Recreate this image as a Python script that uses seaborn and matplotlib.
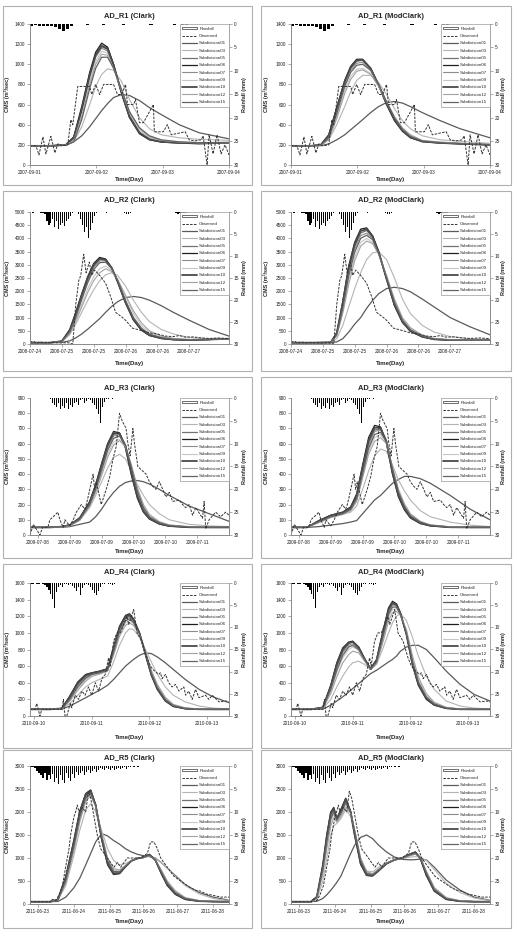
import numpy as np
import matplotlib
matplotlib.use("Agg")
import matplotlib.pyplot as plt
from matplotlib.lines import Line2D
from matplotlib.patches import Patch, Rectangle
import seaborn as sns

# x positions are given in % of each time axis, flows in CMS, rainfall in mm

sub_names = ["Subdivision01", "Subdivision03", "Subdivision05", "Subdivision06", "Subdivision07",
             "Subdivision09", "Subdivision10", "Subdivision12", "Subdivision15"]

# ---------------- AD_R1 ----------------
r1_ticks = [0, 33.3, 66.7, 100]
r1_labels = ["2007-09-01", "2007-09-02", "2007-09-03", "2007-09-04"]
r1_obs_x = [0, 3, 4.5, 6.5, 8, 10.5, 12.5, 14, 16, 19, 20.5, 21.5, 24, 30, 31, 33, 35, 37, 42, 44,
            46, 48, 49, 52, 53, 55, 57, 62, 62.5, 67, 69, 71, 78, 80, 83, 86, 87, 89, 90, 92, 94, 96, 98, 100]
r1_obs_y = [190, 190, 100, 280, 110, 285, 120, 210, 190, 200, 450, 400, 780, 780, 700, 800, 700, 800, 800, 700,
            700, 800, 600, 600, 650, 420, 420, 600, 330, 330, 400, 300, 330, 250, 240, 250, 290, 0, 300, 110,
            300, 110, 200, 100]
r1_rain = [0.4, 0.3, 0.5, 0.4, 0.5, 0.4, 0.7, 1.1, 1.4, 1.0, 0.5, 0.1, 0.1, 0.1, 0.2, 0, 0.1, 0.1, 0.2, 0.1,
           0.1, 0, 0.1, 0.2, 0.1, 0, 0.1, 0.1, 0, 0.1, 0.2, 0.1, 0, 0, 0.1, 0.1, 0.2, 0.1, 0.3, 0.2,
           0.1, 0, 0.1, 0, 0, 0.1, 0, 0, 0.1, 0]
r1_rain_start, r1_rain_step = 0, 2

r1c_t = [0, 10, 18, 22, 26, 30, 33, 36, 39, 42, 46, 50, 55, 60, 66, 75, 85, 100]
r1c_sim = [
    [190, 190, 200, 230, 290, 380, 460, 540, 610, 670, 700, 690, 640, 570, 500, 400, 320, 260],
    [190, 190, 195, 230, 380, 600, 780, 900, 955, 940, 830, 650, 470, 360, 300, 270, 255, 245],
    [190, 190, 200, 270, 560, 900, 1100, 1190, 1160, 1000, 720, 480, 320, 255, 230, 220, 215, 220],
    [190, 190, 200, 280, 580, 920, 1120, 1210, 1170, 1000, 710, 470, 310, 250, 228, 218, 212, 220],
    [190, 190, 200, 260, 530, 870, 1070, 1160, 1130, 980, 720, 490, 330, 260, 232, 222, 215, 220],
    [190, 190, 198, 250, 500, 830, 1030, 1130, 1110, 970, 730, 500, 340, 270, 240, 225, 218, 220],
    [190, 190, 200, 270, 550, 890, 1090, 1180, 1150, 990, 720, 480, 320, 255, 230, 220, 214, 220],
    [190, 190, 198, 240, 480, 800, 1000, 1100, 1090, 960, 740, 520, 360, 280, 245, 228, 220, 222],
    [190, 190, 196, 230, 450, 760, 960, 1070, 1070, 960, 750, 530, 370, 290, 250, 230, 222, 225],
]
r1m_t = [0, 10, 15, 19, 23, 27, 30, 33, 36, 40, 44, 48, 52, 56, 60, 66, 75, 85, 100]
r1m_sim = [
    [190, 190, 192, 210, 250, 300, 350, 400, 450, 520, 580, 620, 630, 615, 580, 520, 440, 360, 270],
    [190, 190, 195, 250, 400, 580, 730, 840, 890, 890, 820, 700, 560, 440, 360, 290, 250, 235, 215],
    [190, 190, 200, 290, 550, 820, 960, 1030, 1040, 960, 800, 620, 460, 350, 280, 235, 220, 212, 200],
    [190, 190, 200, 300, 570, 840, 980, 1050, 1050, 960, 790, 600, 440, 335, 270, 232, 218, 210, 200],
    [190, 190, 198, 280, 530, 800, 940, 1010, 1020, 950, 800, 620, 460, 350, 280, 236, 222, 212, 202],
    [190, 190, 196, 260, 480, 740, 880, 950, 960, 910, 780, 620, 470, 360, 290, 240, 225, 215, 205],
    [190, 190, 200, 295, 560, 830, 970, 1040, 1045, 960, 795, 610, 450, 340, 275, 233, 219, 211, 200],
    [190, 190, 196, 255, 460, 710, 850, 930, 945, 900, 780, 630, 480, 370, 300, 245, 228, 216, 205],
    [190, 190, 198, 270, 510, 780, 920, 990, 1000, 940, 800, 630, 470, 355, 285, 238, 222, 213, 202],
]

# ---------------- AD_R2 ----------------
r2_ticks = [0, 16, 32, 48, 64, 80]
r2_labels = ["2008-07-24", "2008-07-25", "2008-07-25", "2008-07-26", "2008-07-26", "2008-07-27"]
r2_obs_x = [0, 2, 3, 5, 7, 10, 15, 19, 21.5, 23, 24.5, 25.5, 27, 28.2, 29.8, 31, 32.5, 35, 38, 40.5,
            43, 46.5, 48, 51.5, 56.5, 60, 64, 68, 72, 75, 78, 82, 86, 90, 95, 100]
r2_obs_y = [80, 100, 40, 80, 50, 60, 40, 50, 0, 1500, 2400, 2600, 3400, 2700, 3100, 2600, 2800, 2600, 2300, 1800,
            1200, 1000, 900, 600, 500, 420, 380, 300, 280, 320, 260, 270, 230, 210, 230, 200]
r2_rain = [0.1, 0.2, 0, 0.1, 0, 0.2, 0.2, 0.5, 2.0, 3.0, 2.5, 1.5, 3.5, 2.0, 3.8, 3.0, 2.5, 3.2, 2.0, 1.5,
           1.0, 0.3, 0.1, 0, 0.5, 1.5, 3.0, 4.5, 3.5, 5.9, 4.0, 2.5, 0.8, 0.2, 0.1, 0, 0.1, 0, 0.2, 0.1,
           0, 0, 0.1, 0, 0.1, 0, 0, 0.3, 0.5, 0.4, 0.2, 0, 0, 0.1, 0, 0, 0, 0.1, 0, 0,
           0, 0.1, 0, 0, 0, 0, 0.1, 0, 0, 0, 0, 0, 0.1, 0.2, 0.4, 0.3, 0.2, 0.3, 0.2, 0,
           0, 0.1, 0, 0, 0, 0.1, 0, 0, 0, 0, 0, 0, 0.1, 0, 0, 0, 0, 0, 0.1, 0]
r2_rain_start, r2_rain_step = 0, 1

r2c_t = [0, 10, 16, 20, 23, 26, 29, 32, 35, 38, 41, 44, 48, 52, 56, 60, 66, 72, 80, 90, 100]
r2c_sim = [
    [50, 50, 60, 120, 230, 380, 560, 760, 960, 1200, 1420, 1600, 1760, 1800, 1760, 1660, 1450, 1200, 900, 550, 300],
    [50, 50, 80, 350, 750, 1200, 1650, 2050, 2400, 2620, 2700, 2600, 2200, 1650, 1200, 850, 550, 380, 250, 200, 180],
    [50, 50, 100, 500, 1100, 1800, 2450, 2950, 3200, 3200, 2900, 2400, 1600, 950, 560, 350, 220, 170, 150, 170, 200],
    [50, 50, 110, 550, 1200, 1900, 2550, 3050, 3280, 3220, 2880, 2350, 1550, 900, 520, 320, 210, 165, 150, 170, 200],
    [50, 50, 100, 480, 1050, 1750, 2400, 2900, 3150, 3150, 2880, 2400, 1620, 970, 570, 360, 230, 175, 155, 170, 200],
    [50, 50, 90, 420, 900, 1500, 2100, 2550, 2850, 2950, 2800, 2450, 1800, 1150, 700, 450, 280, 200, 170, 180, 200],
    [50, 50, 105, 520, 1150, 1850, 2500, 3000, 3230, 3190, 2890, 2380, 1580, 930, 540, 335, 215, 168, 152, 170, 200],
    [50, 50, 85, 400, 850, 1400, 1950, 2400, 2700, 2850, 2750, 2450, 1850, 1250, 800, 500, 300, 210, 175, 180, 200],
    [50, 50, 95, 460, 1000, 1680, 2320, 2820, 3080, 3100, 2860, 2420, 1650, 1000, 600, 380, 240, 180, 158, 172, 200],
]
r2m_t = [0, 10, 20, 23, 26, 29, 32, 35, 38, 41, 44, 48, 52, 56, 60, 66, 72, 80, 90, 100]
r2m_sim = [
    [50, 50, 50, 80, 200, 450, 750, 1000, 1350, 1650, 1900, 2100, 2150, 2100, 1980, 1700, 1400, 1000, 650, 350],
    [50, 50, 55, 200, 700, 1400, 2100, 2700, 3200, 3450, 3500, 3200, 2500, 1700, 1150, 700, 450, 280, 200, 170],
    [50, 50, 60, 400, 1500, 2800, 3700, 4200, 4300, 4050, 3500, 2500, 1500, 850, 500, 280, 180, 150, 150, 150],
    [50, 50, 60, 420, 1600, 2950, 3850, 4350, 4400, 4100, 3500, 2450, 1450, 820, 480, 270, 175, 150, 150, 150],
    [50, 50, 58, 380, 1450, 2700, 3600, 4100, 4200, 4000, 3480, 2520, 1550, 880, 520, 290, 185, 150, 150, 150],
    [50, 50, 56, 330, 1250, 2400, 3300, 3850, 4000, 3850, 3400, 2550, 1650, 950, 580, 320, 200, 160, 150, 150],
    [50, 50, 60, 410, 1550, 2880, 3780, 4280, 4350, 4080, 3500, 2480, 1480, 840, 490, 275, 178, 150, 150, 150],
    [50, 50, 55, 300, 1150, 2250, 3150, 3700, 3900, 3800, 3400, 2600, 1700, 1000, 620, 340, 210, 165, 152, 150],
    [50, 50, 57, 360, 1350, 2580, 3480, 4000, 4120, 3950, 3450, 2530, 1580, 900, 540, 300, 190, 155, 150, 150],
]

# ---------------- AD_R3 ----------------
r3_ticks = [4, 20, 36, 52, 68, 84]
r3_labels = ["2009-07-08", "2009-07-09", "2009-07-09", "2009-07-10", "2009-07-10", "2009-07-11"]
r3_obs_x = [0, 1.7, 5, 6.3, 9, 10, 12.5, 14, 15, 16.7, 17.5, 20, 21.7, 23.3, 25.8, 27.5, 28.3, 29.2, 31.7, 32.5,
            33.3, 35.8, 38.3, 40, 41.7, 43.3, 45, 46.3, 48.3, 49.2, 50.3, 51.7, 52.5, 54.2, 55.8, 58.3, 60, 61.7,
            63.3, 65, 66.7, 68.3, 70, 71.7, 75, 76.7, 78.3, 80, 81.7, 83.3, 86.7, 87.5, 88.3, 90, 93.3, 95.8,
            98.3, 100]
r3_obs_y = [0, 70, 0, 50, 50, 100, 130, 150, 100, 50, 100, 60, 100, 150, 200, 170, 200, 250, 400, 300,
            350, 200, 300, 380, 500, 580, 800, 750, 700, 600, 520, 700, 600, 450, 430, 400, 350, 320,
            300, 350, 300, 250, 280, 220, 230, 200, 180, 200, 130, 180, 110, 220, 40, 100, 150, 120,
            150, 130]
r3_rain = [0.3, 1.0, 1.5, 2.0, 1.2, 2.5, 1.8, 2.2, 1.0, 2.5, 1.5, 2.0, 1.0, 0.8, 1.5, 0.5, 0.3, 1.2, 0.6, 0.2,
           0.5, 1.0, 1.5, 2.5, 3.5, 5.5, 2.0, 0.8, 0.3, 0.2, 0.1, 0.2, 0.1, 0.1, 0, 0.1]
r3_rain_start, r3_rain_step = 10, 1

r3c_t = [0, 10, 16, 20, 25, 30, 33, 36, 39, 42, 45, 48, 51, 54, 57, 60, 65, 70, 80, 90, 100]
r3c_sim = [
    [50, 50, 50, 55, 70, 85, 120, 170, 230, 280, 320, 345, 355, 358, 350, 335, 300, 260, 190, 140, 90],
    [50, 50, 52, 60, 95, 180, 260, 350, 440, 510, 530, 500, 420, 330, 260, 200, 140, 100, 70, 60, 55],
    [50, 50, 55, 65, 110, 210, 320, 450, 580, 660, 670, 590, 420, 260, 160, 110, 75, 60, 52, 50, 50],
    [50, 50, 55, 65, 110, 220, 330, 470, 600, 680, 670, 570, 390, 240, 150, 105, 72, 58, 51, 50, 50],
    [50, 50, 54, 64, 105, 205, 310, 440, 570, 650, 660, 590, 430, 270, 170, 115, 78, 61, 52, 50, 50],
    [50, 50, 53, 62, 100, 195, 290, 410, 530, 610, 630, 580, 450, 300, 190, 130, 85, 65, 54, 51, 50],
    [50, 50, 55, 66, 112, 215, 325, 460, 590, 670, 665, 580, 405, 250, 155, 108, 74, 59, 51, 50, 50],
    [50, 50, 53, 61, 98, 190, 280, 390, 510, 590, 620, 580, 460, 310, 200, 135, 88, 66, 55, 51, 50],
    [50, 50, 54, 63, 103, 200, 300, 425, 555, 635, 650, 590, 440, 285, 180, 120, 80, 62, 53, 50, 50],
]
r3m_t = [0, 8, 14, 20, 26, 30, 33, 36, 39, 42, 45, 48, 51, 54, 57, 60, 65, 70, 80, 90, 100]
r3m_sim = [
    [50, 50, 55, 65, 75, 85, 95, 140, 185, 230, 260, 300, 340, 365, 385, 385, 370, 340, 260, 170, 100],
    [50, 50, 80, 115, 135, 150, 190, 300, 420, 520, 565, 550, 460, 360, 290, 230, 160, 120, 85, 65, 55],
    [50, 50, 90, 125, 145, 175, 250, 430, 600, 690, 700, 620, 420, 270, 180, 120, 80, 62, 52, 50, 50],
    [50, 50, 95, 130, 150, 185, 270, 460, 640, 720, 710, 600, 400, 250, 165, 112, 75, 60, 51, 50, 50],
    [50, 50, 88, 122, 142, 172, 245, 420, 590, 680, 690, 615, 425, 275, 185, 125, 82, 63, 52, 50, 50],
    [50, 50, 85, 118, 138, 165, 230, 390, 550, 640, 660, 610, 440, 290, 195, 132, 86, 65, 53, 50, 50],
    [50, 50, 92, 128, 148, 180, 260, 445, 620, 705, 705, 610, 410, 260, 172, 116, 78, 61, 51, 50, 50],
    [50, 50, 84, 116, 136, 160, 220, 375, 530, 615, 640, 600, 450, 300, 205, 140, 90, 67, 54, 50, 50],
    [50, 50, 87, 120, 140, 168, 238, 405, 570, 660, 675, 612, 432, 282, 188, 128, 84, 64, 52, 50, 50],
]

# ---------------- AD_R4 ----------------
r4_ticks = [2, 31, 60, 89]
r4_labels = ["2010-09-10", "2010-09-11", "2010-09-12", "2010-09-13"]
r4_obs_x = [0, 2.5, 3.4, 5, 5.9, 16, 16.8, 17.6, 18.5, 20.2, 21, 22.7, 24.4, 26, 27.7, 29.4, 31, 32.8, 34.5, 36.1,
            37.8, 39.5, 40.3, 42, 43.7, 45.4, 47.1, 48.7, 49.6, 52.1, 53.8, 56.3, 58.8, 60.5, 62.2, 64.7, 65.5,
            66.4, 68.1, 69.7, 71.4, 73.1, 74.8, 77.3, 78.2, 79.8, 81.5, 83.2, 84.9, 88.2, 89.9, 91.6, 95, 98.3, 100]
r4_obs_y = [80, 80, 150, 0, 80, 80, 200, 0, 0, 150, 100, 250, 200, 300, 250, 350, 250, 400, 300, 450,
            500, 700, 600, 900, 1000, 1000, 1100, 1200, 1100, 1280, 1000, 900, 700, 600, 550, 500, 520,
            450, 500, 400, 350, 380, 300, 350, 250, 300, 200, 320, 220, 250, 200, 250, 170, 180, 170]
r4_rain = [0.3, 0.2, 0.1, 0.3, 0.2, 0.1, 0.2, 0.4, 0.8, 1.5, 2.5, 3.5, 5.6, 2.0, 1.0, 0.5, 0.8, 0.3, 0.2, 0.4,
           0.3, 0.6, 1.2, 1.8, 1.0, 2.8, 1.2, 0.4, 0.2, 0.5, 1.0, 1.6, 2.2, 2.6, 1.8, 0.8, 0.3, 0.2, 0.1, 0.2,
           0.3, 0.5, 0.2, 0.1, 0, 0.1, 0, 0.1, 0, 0.1]
r4_rain_start, r4_rain_step = 0, 1

r4c_t = [0, 10, 16, 20, 24, 28, 31, 35, 39, 42, 45, 48, 50, 52, 55, 58, 61, 64, 68, 72, 78, 85, 92, 100]
r4c_sim = [
    [80, 80, 82, 120, 170, 220, 260, 310, 370, 440, 520, 600, 640, 680, 730, 760, 750, 710, 640, 560, 440, 320, 230, 160],
    [80, 80, 85, 150, 250, 350, 400, 440, 480, 650, 850, 1000, 1050, 1040, 950, 800, 650, 500, 350, 250, 170, 120, 95, 85],
    [80, 80, 90, 220, 380, 480, 510, 530, 560, 800, 1050, 1180, 1200, 1150, 1000, 750, 500, 330, 190, 120, 90, 82, 80, 80],
    [80, 80, 92, 240, 410, 500, 520, 540, 570, 830, 1080, 1210, 1230, 1170, 1000, 740, 490, 320, 180, 115, 88, 81, 80, 80],
    [80, 80, 90, 210, 370, 470, 505, 525, 555, 790, 1040, 1170, 1190, 1140, 995, 755, 505, 335, 195, 122, 91, 82, 80, 80],
    [80, 80, 88, 190, 330, 440, 490, 515, 545, 750, 990, 1120, 1150, 1110, 980, 770, 530, 360, 210, 130, 95, 83, 80, 80],
    [80, 80, 91, 230, 395, 490, 515, 535, 565, 815, 1065, 1195, 1215, 1160, 998, 745, 495, 325, 185, 118, 89, 81, 80, 80],
    [80, 80, 87, 180, 310, 420, 475, 505, 540, 730, 960, 1090, 1120, 1090, 975, 780, 550, 380, 225, 140, 98, 84, 81, 80],
    [80, 80, 89, 200, 350, 455, 500, 520, 550, 770, 1015, 1145, 1170, 1125, 990, 760, 515, 345, 200, 125, 92, 82, 80, 80],
]
r4m_t = [0, 10, 16, 20, 23, 26, 29, 31, 34, 37, 40, 43, 46, 49, 51, 53, 55, 58, 61, 64, 68, 72, 78, 85, 92, 100]
r4m_sim = [
    [80, 80, 82, 130, 180, 230, 290, 330, 390, 450, 510, 550, 600, 650, 680, 720, 780, 830, 850, 850, 800, 700, 540, 380, 260, 180],
    [80, 80, 90, 200, 350, 480, 590, 640, 660, 620, 560, 620, 800, 1000, 1120, 1200, 1230, 1150, 950, 720, 480, 320, 180, 120, 95, 85],
    [80, 80, 100, 350, 600, 780, 870, 890, 820, 680, 560, 650, 950, 1250, 1340, 1330, 1230, 1000, 650, 400, 220, 140, 95, 82, 80, 80],
    [80, 80, 105, 370, 640, 820, 890, 900, 830, 690, 570, 680, 1000, 1300, 1380, 1350, 1240, 980, 620, 370, 200, 130, 92, 81, 80, 80],
    [80, 80, 98, 340, 580, 760, 850, 870, 810, 680, 560, 660, 960, 1260, 1340, 1320, 1220, 990, 640, 390, 215, 138, 94, 82, 80, 80],
    [80, 80, 95, 300, 520, 700, 800, 830, 790, 670, 560, 640, 900, 1180, 1280, 1290, 1220, 1020, 700, 440, 250, 155, 100, 84, 80, 80],
    [80, 80, 102, 360, 620, 800, 880, 895, 825, 685, 565, 670, 980, 1280, 1360, 1340, 1235, 985, 630, 380, 210, 135, 93, 81, 80, 80],
    [80, 80, 92, 270, 470, 640, 740, 780, 760, 660, 560, 630, 870, 1140, 1240, 1260, 1210, 1040, 730, 470, 270, 165, 105, 85, 81, 80],
    [80, 80, 97, 320, 550, 730, 830, 850, 800, 675, 560, 650, 930, 1220, 1310, 1310, 1225, 1000, 660, 410, 230, 145, 96, 83, 80, 80],
]

# ---------------- AD_R5 ----------------
r5_ticks = [4, 22, 40, 57, 74, 92]
r5_labels = ["2011-06-23", "2011-06-24", "2011-06-25", "2011-06-26", "2011-06-27", "2011-06-28"]
r5_obs_x = [0, 10.4, 11.2, 12.9, 14.6, 16.3, 17.9, 19.6, 20.4, 22.1, 22.9, 23.8, 24.6, 26.3, 28, 29.3, 30.5, 33.8,
            35.5, 37.2, 38.9, 40.5, 42.2, 43.9, 45.6, 47.2, 48.9, 52.3, 55.6, 57.3, 59, 60.6, 62.3, 64, 65.7,
            67.3, 69, 70.7, 72.4, 75.7, 77.4, 80.7, 83.2, 85.8, 88.3, 90.8, 95.8, 100]
r5_obs_y = [50, 50, 100, 70, 200, 400, 800, 1200, 1500, 1900, 2000, 2150, 2000, 2100, 2000, 2450, 2300, 1500,
            1200, 1100, 1000, 900, 800, 900, 800, 900, 1000, 1000, 1000, 1050, 1100, 1350, 1350, 1200, 1000,
            900, 800, 700, 600, 500, 450, 350, 300, 280, 220, 200, 150, 150]
r5_rain = [0.2, 0.3, 0.5, 1.0, 1.5, 2.0, 2.5, 1.5, 3.0, 2.0, 2.8, 1.8, 3.5, 2.5, 3.9, 2.0, 3.0, 3.8, 1.5, 2.5,
           3.2, 1.8, 2.5, 1.2, 2.0, 1.5, 1.0, 2.0, 1.2, 0.8, 1.5, 1.0, 0.6, 1.2, 0.8, 0.5, 0.6, 0.9, 0.4, 0.6,
           0.8, 0.5, 0.9, 0.6, 0.4, 0.7, 0.5, 0.3, 0.6, 0.2, 0.3, 0.1, 0.2, 0.1, 0.3, 0.1, 0, 0.1, 0, 0.1]
r5_rain_start, r5_rain_step = 0, 1

r5c_t = [0, 10, 14, 18, 22, 25, 28, 30.5, 33, 36, 39, 42, 45, 48, 51, 54, 57, 60, 63, 66, 69, 73, 78, 85, 92, 100]
r5c_sim = [
    [50, 50, 55, 150, 350, 560, 850, 1100, 1350, 1530, 1480, 1380, 1300, 1200, 1130, 1080, 1050, 1030, 1000, 900, 780, 620, 420, 250, 150, 80],
    [50, 50, 80, 400, 1050, 1600, 2050, 2180, 2000, 1600, 1200, 950, 850, 880, 950, 1000, 1020, 1040, 1000, 900, 780, 600, 400, 220, 120, 70],
    [50, 50, 90, 550, 1300, 1950, 2350, 2440, 2150, 1450, 900, 680, 680, 820, 940, 990, 1010, 1060, 950, 680, 430, 230, 110, 65, 55, 50],
    [50, 50, 95, 600, 1380, 2020, 2400, 2480, 2150, 1400, 850, 640, 660, 810, 940, 990, 1020, 1080, 960, 660, 400, 210, 100, 60, 52, 50],
    [50, 50, 88, 530, 1270, 1920, 2330, 2420, 2140, 1470, 920, 700, 690, 820, 940, 990, 1010, 1060, 950, 690, 440, 240, 115, 66, 55, 50],
    [50, 50, 85, 480, 1200, 1830, 2270, 2380, 2130, 1500, 970, 740, 720, 830, 940, 990, 1010, 1050, 960, 720, 480, 270, 130, 70, 56, 50],
    [50, 50, 92, 570, 1340, 1990, 2380, 2460, 2150, 1430, 880, 660, 670, 815, 940, 990, 1015, 1070, 955, 670, 415, 220, 105, 62, 53, 50],
    [50, 50, 82, 450, 1150, 1780, 2230, 2350, 2120, 1520, 1000, 770, 740, 840, 945, 995, 1010, 1045, 965, 740, 500, 290, 140, 75, 58, 52],
    [50, 50, 87, 510, 1240, 1880, 2300, 2400, 2140, 1480, 940, 710, 700, 825, 940, 990, 1012, 1055, 955, 700, 455, 250, 120, 68, 55, 50],
]
r5m_t = [0, 10, 13, 16, 18, 20, 21.5, 23, 25, 27.5, 30, 32, 35, 38, 41, 44, 48, 52, 56, 60, 62.5, 65, 68, 72, 78, 85, 92, 100]
r5m_sim = [
    [50, 50, 60, 120, 200, 300, 380, 470, 600, 850, 1100, 1280, 1450, 1500, 1420, 1280, 1130, 1020, 970, 960, 965, 975, 960, 800, 520, 300, 150, 80],
    [50, 50, 100, 500, 1000, 1500, 1700, 1750, 1850, 2050, 1900, 1450, 950, 720, 700, 800, 900, 960, 990, 1020, 1030, 1020, 950, 750, 450, 250, 130, 75],
    [50, 50, 150, 800, 1450, 1950, 2050, 1850, 2000, 2250, 2000, 1550, 900, 640, 620, 730, 880, 960, 1000, 1080, 1120, 1000, 650, 300, 110, 60, 52, 50],
    [50, 50, 160, 850, 1500, 2000, 2100, 1850, 2050, 2300, 2000, 1500, 860, 620, 610, 720, 875, 960, 1000, 1090, 1130, 990, 620, 280, 100, 58, 51, 50],
    [50, 50, 145, 780, 1400, 1900, 2020, 1830, 1980, 2220, 1990, 1560, 920, 650, 625, 735, 880, 960, 1000, 1075, 1110, 1000, 660, 310, 115, 62, 52, 50],
    [50, 50, 130, 700, 1300, 1800, 1950, 1800, 1930, 2150, 1980, 1600, 980, 690, 650, 750, 885, 960, 1000, 1060, 1090, 1010, 700, 340, 130, 68, 54, 50],
    [50, 50, 155, 830, 1480, 1980, 2080, 1850, 2030, 2280, 2000, 1520, 880, 630, 615, 725, 878, 960, 1000, 1085, 1125, 995, 635, 290, 105, 59, 51, 50],
    [50, 50, 120, 650, 1200, 1700, 1880, 1780, 1900, 2100, 1970, 1620, 1000, 710, 660, 760, 890, 960, 1000, 1050, 1080, 1010, 720, 360, 140, 72, 55, 51],
    [50, 50, 140, 750, 1350, 1850, 2000, 1820, 1960, 2200, 1990, 1580, 950, 670, 635, 740, 882, 960, 1000, 1070, 1100, 1005, 680, 320, 120, 64, 53, 50],
]

# ---------------- styles / layout ----------------
sub_colors = ["#5a5a5a", "#b4b4b4", "#727272", "#1e1e1e", "#8c8c8c", "#c6c6c6", "#4a4a4a", "#a2a2a2", "#636363"]
sub_widths = [0.9, 0.8, 0.9, 0.9, 0.8, 0.8, 1.3, 0.8, 0.9]
obs_style = dict(color="#333333", lw=0.7, linestyle=(0, (2.6, 1.3)))
axis_grey = "#8a8a8a"

panels = [
    # row, col, title, t, sims, obs, rain, ymax, ystep, ticks, labels
    (0, 0, "AD_R1 (Clark)", r1c_t, r1c_sim, r1_obs_x, r1_obs_y, r1_rain_start, r1_rain_step, r1_rain, 1400, 200, r1_ticks, r1_labels),
    (0, 1, "AD_R1 (ModClark)", r1m_t, r1m_sim, r1_obs_x, r1_obs_y, r1_rain_start, r1_rain_step, r1_rain, 1400, 200, r1_ticks, r1_labels),
    (1, 0, "AD_R2 (Clark)", r2c_t, r2c_sim, r2_obs_x, r2_obs_y, r2_rain_start, r2_rain_step, r2_rain, 5000, 500, r2_ticks, r2_labels),
    (1, 1, "AD_R2 (ModClark)", r2m_t, r2m_sim, r2_obs_x, r2_obs_y, r2_rain_start, r2_rain_step, r2_rain, 5000, 500, r2_ticks, r2_labels),
    (2, 0, "AD_R3 (Clark)", r3c_t, r3c_sim, r3_obs_x, r3_obs_y, r3_rain_start, r3_rain_step, r3_rain, 900, 100, r3_ticks, r3_labels),
    (2, 1, "AD_R3 (ModClark)", r3m_t, r3m_sim, r3_obs_x, r3_obs_y, r3_rain_start, r3_rain_step, r3_rain, 900, 100, r3_ticks, r3_labels),
    (3, 0, "AD_R4 (Clark)", r4c_t, r4c_sim, r4_obs_x, r4_obs_y, r4_rain_start, r4_rain_step, r4_rain, 1600, 200, r4_ticks, r4_labels),
    (3, 1, "AD_R4 (ModClark)", r4m_t, r4m_sim, r4_obs_x, r4_obs_y, r4_rain_start, r4_rain_step, r4_rain, 1600, 200, r4_ticks, r4_labels),
    (4, 0, "AD_R5 (Clark)", r5c_t, r5c_sim, r5_obs_x, r5_obs_y, r5_rain_start, r5_rain_step, r5_rain, 3000, 500, r5_ticks, r5_labels),
    (4, 1, "AD_R5 (ModClark)", r5m_t, r5m_sim, r5_obs_x, r5_obs_y, r5_rain_start, r5_rain_step, r5_rain, 3000, 500, r5_ticks, r5_labels),
]

W, H = 517, 936
col_x = [(30, 229), (291, 490)]
row_y = [(24, 165), (212, 344), (398, 535), (583, 716), (766, 904)]
frame_x = [(3, 252), (261, 511)]
frame_y = [(6, 185), (191, 371), (377, 558), (564, 748), (750, 928)]
title_y = [16, 201, 388, 573, 758]
xlabel_y = [180, 364, 552, 737, 922]
ylab_x = [7, 266]
rlab_x = [245, 504]

sns.set_style("ticks")
plt.rcParams["font.family"] = ["Liberation Sans", "DejaVu Sans"]

fig = plt.figure(figsize=(W / 100, H / 100), dpi=100)

for (row, col, title, t, sims, ox, oy, rs, rstep, rain, ymax, ystep, xt, xl) in panels:
    l, r = col_x[col]
    top, bot = row_y[row]
    ax = fig.add_axes([l / W, 1 - bot / H, (r - l) / W, (bot - top) / H])

    for vals, c, lw in zip(sims, sub_colors, sub_widths):
        sns.lineplot(x=t, y=vals, ax=ax, color=c, lw=lw, legend=False)
    sns.lineplot(x=ox, y=oy, ax=ax, legend=False, **obs_style)

    ax.set_xlim(0, 100)
    ax.set_ylim(0, ymax)
    ax.set_yticks(np.arange(0, ymax + 1, ystep))
    ax.set_xticks(xt)
    ax.set_xticklabels(xl)
    ax.set_xlabel("")
    ax.set_ylabel("")

    ax2 = ax.twinx()
    rx = rs + rstep * np.arange(len(rain))
    ax2.bar(rx, rain, width=rstep * 0.8, align="edge", color="black", linewidth=0)
    ax2.set_ylim(30, 0)
    ax2.set_yticks(np.arange(0, 31, 5))

    for a in (ax, ax2):
        a.spines["top"].set_visible(False)
        for s in ("left", "right", "bottom"):
            a.spines[s].set_color(axis_grey)
            a.spines[s].set_linewidth(0.6)
        a.tick_params(labelsize=3.4, length=2, width=0.5, pad=1.5, color=axis_grey, labelcolor="#222222")

    handles = [Patch(facecolor="white", edgecolor="#333333", lw=0.5, label="Rainfall"),
               Line2D([], [], label="Observed", **obs_style)]
    handles += [Line2D([], [], color=c, lw=lw, label=n) for n, c, lw in zip(sub_names, sub_colors, sub_widths)]
    leg = ax2.legend(handles=handles, loc="upper right", fontsize=3.2, frameon=True, fancybox=False,
                     edgecolor="#9a9a9a", framealpha=1, borderpad=0.6, labelspacing=0.75,
                     handlelength=3.4, handletextpad=0.4, borderaxespad=0.0, handleheight=0.5)
    leg.get_frame().set_linewidth(0.5)

    cx = (l + r) / 2 / W
    fig.text(cx, 1 - title_y[row] / H, title, ha="center", va="center", fontsize=5.4, fontweight="bold")
    fig.text(cx, 1 - xlabel_y[row] / H, "Time(Day)", ha="center", va="center", fontsize=4.4, fontweight="bold")
    cy = 1 - (top + bot) / 2 / H
    fig.text(ylab_x[col] / W, cy, "CMS (m³/sec)", rotation=90, ha="center", va="center", fontsize=4.0, fontweight="bold")
    fig.text(rlab_x[col] / W, cy, "Rainfall (mm)", rotation=90, ha="center", va="center", fontsize=4.0, fontweight="bold")

    fx0, fx1 = frame_x[col]
    fy0, fy1 = frame_y[row]
    fig.add_artist(Rectangle((fx0 / W, 1 - fy1 / H), (fx1 - fx0) / W, (fy1 - fy0) / H,
                             transform=fig.transFigure, fill=False, edgecolor="#b0b0b0", lw=0.8))

fig.savefig("out.png", dpi=100)
